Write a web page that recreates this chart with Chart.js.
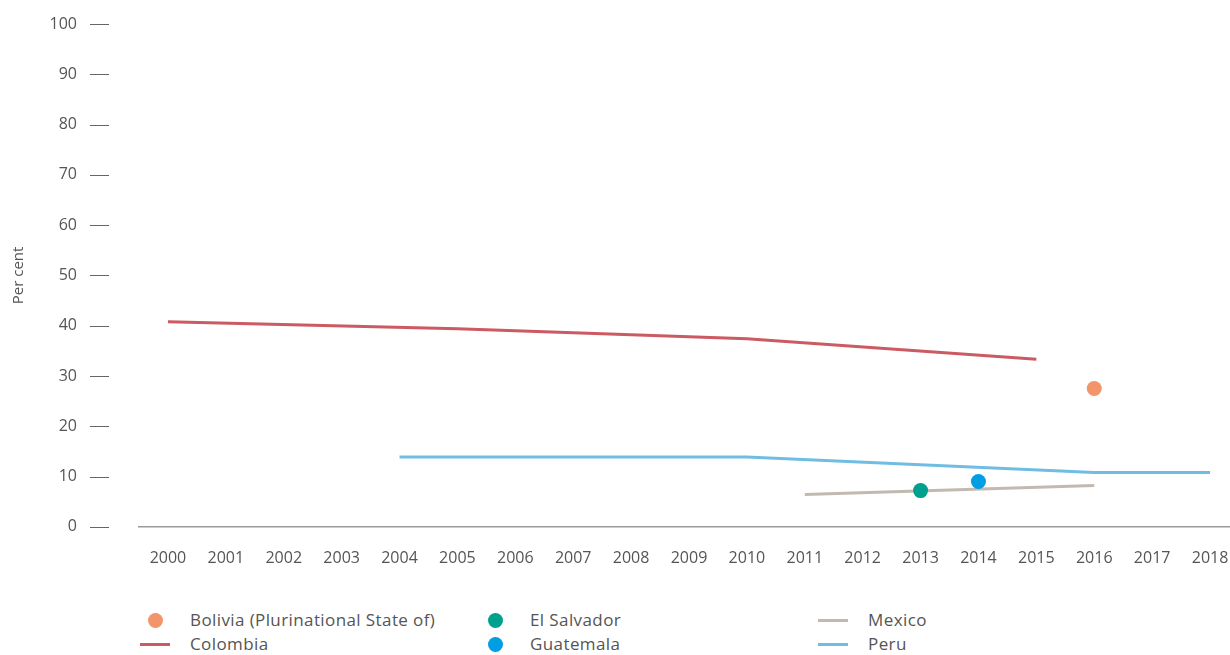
<!DOCTYPE html>
<html>
<head>
<meta charset="utf-8">
<script src="https://cdn.jsdelivr.net/npm/chart.js@4.4.1/dist/chart.umd.min.js"></script>
<style>
  body { margin: 0; background: #fff; font-family: "Open Sans", Lato, sans-serif; }
  .wrap { position: relative; width: 1230px; height: 655px; }
  .chart-box { position: absolute; left: 0; top: 0; width: 1230px; height: 590px; }
  .legend { position: absolute; top: 608px; left: 0; width: 1230px; height: 50px; color: #555; font-size: 17px; letter-spacing: 0.4px; }
  .legend-item { position: absolute; height: 24px; line-height: 24px; white-space: nowrap; }
  .legend-item .mark { position: absolute; }
  .legend-item .dot { width: 15px; height: 15px; border-radius: 50%; top: 5px; }
  .legend-item .bar { width: 30px; height: 3px; top: 11px; }
</style>
</head>
<body>
<div class="wrap">
  <div class="chart-box"><canvas id="myChart" width="1230" height="590"></canvas></div>
  <div class="legend" id="legend"></div>
</div>
<script>
const years = [2000, 2001, 2002, 2003, 2004, 2005, 2006, 2007, 2008, 2009, 2010, 2011, 2012, 2013, 2014, 2015, 2016, 2017, 2018];
const yTicks = [0, 10, 20, 30, 40, 50, 60, 70, 80, 90, 100];

// values per year, null = no data
const bolivia    = [null, null, null, null, null, null, null, null, null, null, null, null, null, null, null, null, 27.5, null, null];
const colombia   = [40.8, null, null, null, null, 39.4, null, null, null, null, 37.4, null, null, null, null, 33.3, null, null, null];
const elSalvador = [null, null, null, null, null, null, null, null, null, null, null, null, null, 7.2, null, null, null, null, null];
const guatemala  = [null, null, null, null, null, null, null, null, null, null, null, null, null, null, 9.0, null, null, null, null];
const mexico     = [null, null, null, null, null, null, null, null, null, null, null, 6.4, null, null, null, null, 8.2, null, null];
const peru       = [null, null, null, null, 13.9, null, null, null, null, null, 13.9, null, null, null, null, null, 10.8, null, 10.8];

const toPoints = (vals) => years.map((yr, i) => ({ x: yr, y: vals[i] }));

const series = [
  { label: "Bolivia (Plurinational State of)", data: bolivia, color: "#f2956b", type: "dot" },
  { label: "Colombia", data: colombia, color: "#cb5a63", type: "line" },
  { label: "El Salvador", data: elSalvador, color: "#00a08e", type: "dot" },
  { label: "Guatemala", data: guatemala, color: "#009ee2", type: "dot" },
  { label: "Mexico", data: mexico, color: "#c2b9b1", type: "line" },
  { label: "Peru", data: peru, color: "#6fbde3", type: "line" },
];

const datasets = series.map((s) => {
  if (s.type === "dot") {
    return {
      label: s.label,
      data: toPoints(s.data),
      showLine: false,
      pointRadius: 7.5,
      pointBackgroundColor: s.color,
      pointBorderWidth: 0,
      borderColor: s.color,
    };
  }
  return {
    label: s.label,
    data: toPoints(s.data),
    borderColor: s.color,
    borderWidth: 3,
    pointRadius: 0,
    spanGaps: true,
    tension: 0,
  };
});

// small dash drawn in the gap between each y label and the plot
const tickDashes = {
  id: "tickDashes",
  afterDraw(chart) {
    const yScale = chart.scales.y;
    const left = chart.chartArea.left;
    const c = chart.ctx;
    c.save();
    c.strokeStyle = "#666";
    c.lineWidth = 1;
    yScale.ticks.forEach((t) => {
      const py = Math.round(yScale.getPixelForValue(t.value)) + 0.5;
      c.beginPath();
      c.moveTo(left - 49, py);
      c.lineTo(left - 30, py);
      c.stroke();
    });
    c.restore();
  },
};

const ctx = document.getElementById("myChart").getContext("2d");
new Chart(ctx, {
  type: "line",
  data: { datasets: datasets },
  plugins: [tickDashes],
  options: {
    responsive: false,
    animation: false,
    layout: { autoPadding: false, padding: { top: 24, right: 0, bottom: 0, left: 0 } },
    plugins: { legend: { display: false }, tooltip: { enabled: false } },
    scales: {
      x: {
        type: "linear",
        min: 1999.5,
        max: 2018.345,
        grid: { display: false, drawTicks: false },
        border: { display: true, color: "#9a9a9a", width: 1.5 },
        afterBuildTicks: (scale) => { scale.ticks = years.map((v) => ({ value: v })); },
        afterFit: (scale) => { scale.paddingLeft = 0; scale.paddingRight = 0; },
        ticks: {
          autoSkip: false,
          maxRotation: 0,
          padding: 22,
          color: "#555",
          font: { family: "Open Sans", size: 16 },
          callback: (v) => String(v),
        },
      },
      y: {
        min: 0,
        max: 100,
        afterFit: (scale) => { scale.width = 139; scale.paddingTop = 0; scale.paddingBottom = 0; },
        afterBuildTicks: (scale) => { scale.ticks = yTicks.map((v) => ({ value: v })); },
        grid: { display: false, drawTicks: false },
        border: { display: false },
        ticks: {
          padding: 62,
          color: "#555",
          font: { family: "Open Sans", size: 16 },
        },
        title: {
          display: true,
          text: "Per cent",
          color: "#555",
          font: { family: "Open Sans", size: 15 },
          padding: { top: 10, bottom: 0 },
        },
      },
    },
  },
});

// legend, filled column by column like the original
const legend = document.getElementById("legend");
const colX = [148, 488, 826];
series.forEach((s, i) => {
  const col = Math.floor(i / 2);
  const row = i % 2;
  const item = document.createElement("div");
  item.className = "legend-item";
  item.style.left = colX[col] + "px";
  item.style.top = row * 24 + "px";
  const mark = document.createElement("span");
  mark.className = s.type === "dot" ? "mark dot" : "mark bar";
  mark.style.left = s.type === "dot" ? "0px" : "-8px";
  mark.style.background = s.color;
  item.appendChild(mark);
  const txt = document.createElement("span");
  txt.textContent = s.label;
  txt.style.marginLeft = "42px";
  item.appendChild(txt);
  legend.appendChild(item);
});
</script>
</body>
</html>
